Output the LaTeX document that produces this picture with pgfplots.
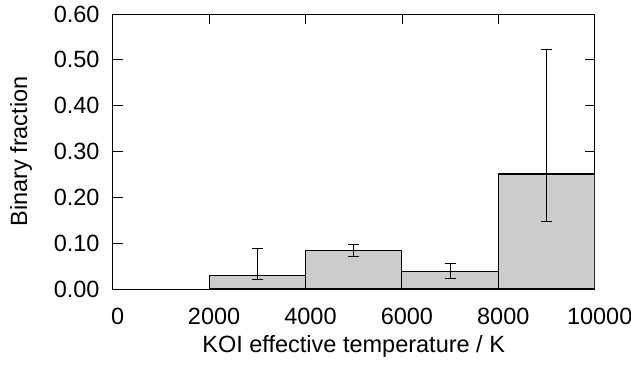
\documentclass[border=0pt]{standalone}
\usepackage{pgfplots}
\pgfplotsset{compat=1.18}
\usepackage{fontspec}
\setmainfont{Liberation Sans}
\definecolor{barfill}{HTML}{CCCCCC}
\begin{document}
\begin{tikzpicture}
\begin{axis}[
  name=ax,
  at={(0pt,0pt)}, anchor=south west,
  scale only axis,
  width=482pt, height=275pt,
  xmin=0, xmax=10000, ymin=0, ymax=0.6,
  xtick={0,2000,4000,6000,8000,10000},
  ytick={0,0.1,0.2,0.3,0.4,0.5,0.6},
  tick align=inside,
  major tick length=10pt,
  minor tick num=0,
  axis line style={line width=0.8pt},
  every tick/.style={black, line width=0.8pt},
  /pgf/number format/assume math mode=true,
  yticklabel style={anchor=east, inner sep=0pt, xshift=-13pt,
    /pgf/number format/fixed, /pgf/number format/fixed zerofill, /pgf/number format/precision=2},
  xticklabel style={anchor=center, inner sep=0pt, yshift=-27pt, xshift=5pt,
    /pgf/number format/set thousands separator={}, /pgf/number format/fixed},
  tick label style={font=\fontsize{23.5}{27}\selectfont},
  label style={font=\fontsize{23.5}{27}\selectfont},
  xlabel={KOI effective temperature / K},
  ylabel={Binary fraction},
  xlabel style={at={(axis description cs:0.5,-0.2074)}, anchor=center, inner sep=0pt},
  ylabel style={at={(axis description cs:-0.19,0.5)}, anchor=center, inner sep=0pt},
  scaled y ticks=false,
  scaled x ticks=false,
]
\addplot[ybar interval, fill=barfill, draw=black, line width=1.1pt] coordinates {
  (2000,0.030) (4000,0.084) (6000,0.039) (8000,0.251) (10000,0.251)
};
\addplot[draw=none, mark=none, forget plot,
  error bars/.cd, y dir=both, y explicit,
  error bar style={black, line width=0.8pt},
  error mark options={rotate=90, mark size=5.5pt, line width=0.8pt}]
  coordinates {
  (3000,0.030) += (0,0.059) -= (0,0.010)
  (5000,0.084) += (0,0.013) -= (0,0.013)
  (7000,0.039) += (0,0.016) -= (0,0.016)
  (9000,0.251) += (0,0.272) -= (0,0.104)
};
\end{axis}
\pgfresetboundingbox
\path (-112.7pt,-77pt) rectangle (518.3pt,289pt);
\end{tikzpicture}
\end{document}
